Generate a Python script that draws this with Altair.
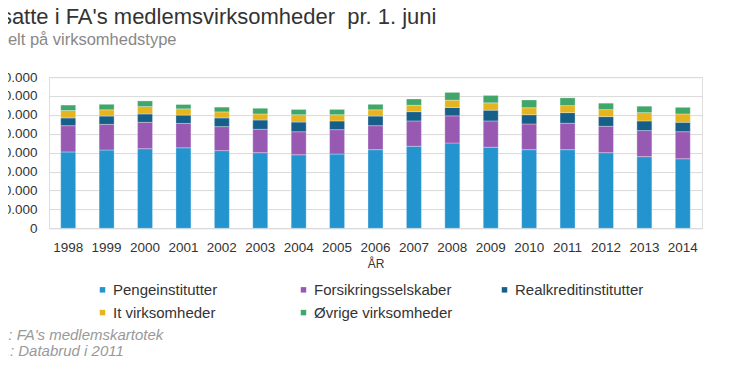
import altair as alt
import pandas as pd

years = ["1998", "1999", "2000", "2001", "2002", "2003", "2004", "2005", "2006",
         "2007", "2008", "2009", "2010", "2011", "2012", "2013", "2014"]

series = ["Pengeinstitutter", "Forsikringsselskaber", "Realkreditinstitutter",
          "It virksomheder", "Øvrige virksomheder"]
colors = ["#2494CF", "#9859B2", "#165F88", "#E5B41E", "#40A66A"]

pengeinstitutter = [40400, 41400, 42100, 42600, 41100, 40000, 38900, 39300, 41600,
                    43400, 45100, 42900, 41600, 41600, 40000, 37900, 36800]
forsikring = [13900, 13600, 14000, 12900, 12700, 12400, 12200, 12900, 12700,
              13400, 14400, 13900, 13600, 14000, 14000, 13800, 14300]
realkredit = [4100, 4400, 4400, 4400, 4600, 4900, 5100, 4600, 5100,
              4900, 4400, 5700, 4900, 5600, 5100, 5100, 5000]
it_virk = [3900, 3300, 3900, 3300, 3200, 3200, 3900, 3300, 3300,
           3400, 3900, 3900, 3700, 3700, 3700, 4400, 4400]
oevrige = [2900, 2900, 3000, 2300, 2500, 3000, 2800, 2800, 2900,
           3300, 4100, 3900, 4100, 4100, 3400, 3400, 3500]

y_ticks = [0, 10000, 20000, 30000, 40000, 50000, 60000, 70000, 80000]

title_text = "Ansatte i FA's medlemsvirksomheder\u00a0 pr. 1. juni"
subtitle_text = "Fordelt på virksomhedstype"
footnote_1 = "Kilde: FA's medlemskartotek"
footnote_2 = "Anm.: Databrud i 2011"

FONT = "Liberation Sans, Arial, sans-serif"

rows = []
for si, (name, vals) in enumerate(zip(series, [pengeinstitutter, forsikring, realkredit, it_virk, oevrige])):
    for yr, v in zip(years, vals):
        rows.append({"year": yr, "series": name, "value": v, "order": si})
df = pd.DataFrame(rows)

bars = alt.Chart(df).mark_bar(stroke="white", strokeOpacity=0.3, strokeWidth=1).encode(
    x=alt.X("year:N", sort=years, title="ÅR",
            scale=alt.Scale(paddingInner=0.61, paddingOuter=0.305),
            axis=alt.Axis(labelAngle=0, labelFontSize=13.5, labelColor="#333", labelFont=FONT,
                          labelPadding=12, ticks=False, tickSize=0, domain=False, grid=False,
                          titleFontSize=12, titleFontWeight="normal", titleColor="#333",
                          titleFont=FONT, titlePadding=5)),
    y=alt.Y("value:Q", stack="zero", scale=alt.Scale(domain=[0, 80000], nice=False),
            axis=alt.Axis(values=y_ticks, title=None, domain=False, ticks=False, tickSize=0,
                          labelExpr="replace(format(datum.value, ','), ',', '.')",
                          labelPadding=12, labelFontSize=13.5, labelColor="#333", labelFont=FONT,
                          grid=True, gridColor="#d9d9d9", gridWidth=1)),
    color=alt.Color("series:N", scale=alt.Scale(domain=series, range=colors),
                    legend=alt.Legend(orient="none", legendX=46, legendY=205,
                                      direction="horizontal", columns=3, title=None,
                                      symbolType="square", symbolSize=30, symbolStrokeWidth=0,
                                      labelFontSize=15, labelFont=FONT, labelColor="#333",
                                      labelOffset=3, columnPadding=44, rowPadding=7,
                                      gridAlign="all", padding=0, labelLimit=400)),
    order=alt.Order("order:Q"),
)

foot1 = alt.Chart(pd.DataFrame({"t": [footnote_1]})).mark_text(
    align="left", baseline="alphabetic", font=FONT, fontStyle="italic", fontSize=15, color="#999"
).encode(x=alt.value(-74), y=alt.value(263), text="t:N")

foot2 = alt.Chart(pd.DataFrame({"t": [footnote_2]})).mark_text(
    align="left", baseline="alphabetic", font=FONT, fontStyle="italic", fontSize=15, color="#999"
).encode(x=alt.value(-74), y=alt.value(279), text="t:N")

chart = alt.layer(bars, foot1, foot2).properties(
    width=653, height=151.2,
    autosize=alt.AutoSizeParams(type="none"),
    padding={"left": 41, "top": 69.1, "right": 15, "bottom": 129},
    title=alt.TitleParams(text=title_text, subtitle=subtitle_text, anchor="start", frame="group",
                          dx=-75, offset=20.5, fontSize=22, font=FONT, fontWeight="normal",
                          color="#333", subtitleFontSize=16.5, subtitleColor="#888",
                          subtitleFont=FONT, subtitlePadding=3),
).configure_view(stroke=None).configure(background="white")

chart.save("out.html", embed_options={"renderer": "svg", "actions": False})
